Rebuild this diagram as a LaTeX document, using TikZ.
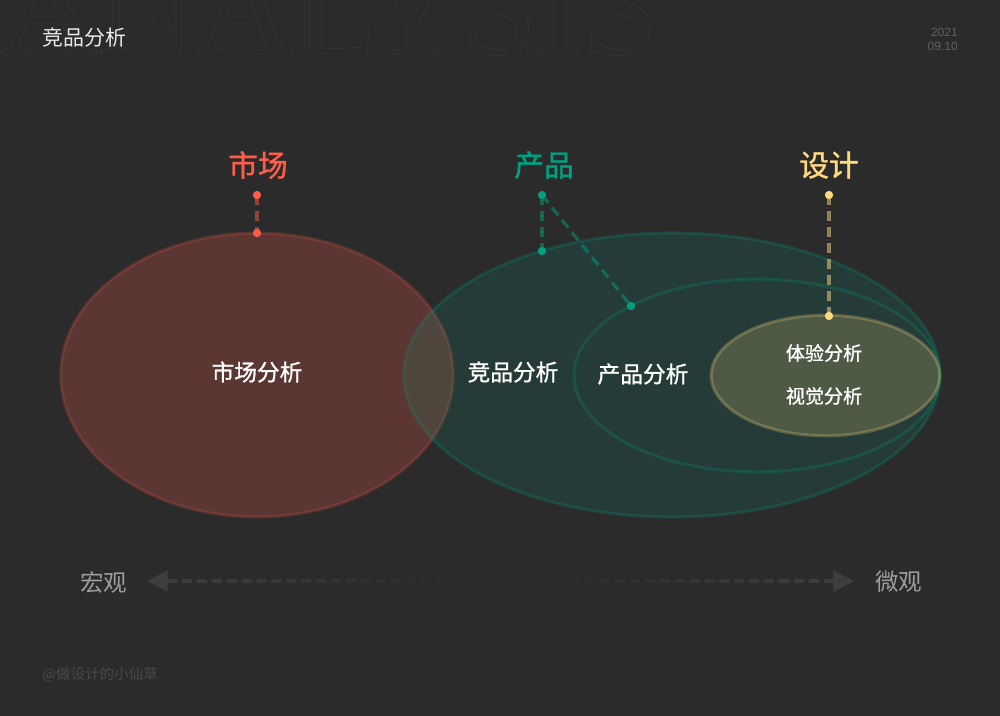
\documentclass[tikz,border=0pt]{standalone}
\usepackage{fontspec}
\usetikzlibrary{shapes.geometric,arrows.meta}
\setmainfont{Liberation Sans}
\newfontfamily\cjk{Noto Sans CJK SC}
\newfontfamily\cjkmed[FakeBold=1.1]{Noto Sans CJK SC}
\newfontfamily\bigserif{Liberation Serif}
\newcommand{\outlined}[1]{\special{pdf:code 1 Tr 0.2 w}#1\special{pdf:code 0 Tr}}
\definecolor{bgdark}{HTML}{2B2B2B}
\definecolor{marketred}{HTML}{FF5C4A}
\definecolor{productgreen}{HTML}{00A080}
\definecolor{designyellow}{HTML}{FFD97D}
\tikzset{
  blob/.style={ellipse, inner sep=0pt, line width=2.3pt},
  dot/.style={circle, fill=#1, inner sep=0pt, minimum width=6.2pt},
  lead/.style={dash pattern=on 7.5pt off 4.5pt, line width=2.4pt, draw opacity=.5},
  heading/.style={font=\cjkmed\fontsize{22.3}{22.3}\selectfont},
  inlabel/.style={text=white, font=\cjkmed\fontsize{17}{17}\selectfont},
  smalllabel/.style={text=white, font=\cjkmed\fontsize{14.3}{14.3}\selectfont},
  scalelabel/.style={text=black!38!white, font=\cjk\fontsize{17.6}{17.6}\selectfont}
}

\begin{document}
\begin{tikzpicture}[x=.75pt, y=-.75pt]
    \useasboundingbox (0,0) rectangle (1000,716);
    \clip (0,0) rectangle (1000,716);
    \fill[bgdark] (0,0) rectangle (1000,716);
    \node[anchor=base west, inner sep=0pt, text=white!10!bgdark, font=\bigserif\fontsize{102}{102}\selectfont] (word) at (-1,54) {\outlined{ANALYSIS}};
    \node[text=white!92!black, font=\cjk\fontsize{15.7}{15.7}\selectfont, anchor=west, inner sep=0pt] (title) at (42,38) {竞品分析};
    \node[text=white!25!bgdark, font=\fontsize{9}{10}\selectfont, align=right, anchor=east, inner sep=0pt] (date) at (958,39.5) {2021\\09.10};

    \node[blob, draw=marketred, draw opacity=.18, fill=marketred, fill opacity=.23, minimum width=294.5pt, minimum height=213pt] (market) at (257,375) {};
    \node[blob, draw=productgreen, draw opacity=.22, fill=productgreen, fill opacity=.145, minimum width=402pt, minimum height=213pt] (compete) at (672,375) {};
    \node[blob, draw=productgreen, draw opacity=.22, minimum width=274.5pt, minimum height=144.5pt] (product) at (757,375.5) {};
    \node[blob, draw=designyellow, draw opacity=.25, fill=designyellow, fill opacity=.2, minimum width=171.5pt, minimum height=90.5pt] (design) at (825.5,375.5) {};

    \node[heading, text=marketred] (marketname) at (258,165) {市场};
    \node[heading, text=productgreen] (productname) at (544,165) {产品};
    \node[heading, text=designyellow] (designname) at (829,165) {设计};

    \draw[lead, marketred] (257,195) coordinate (marketup) to (257,233) coordinate (marketlow);
    \draw[lead, productgreen] (542,195) coordinate (productup) to (542,251) coordinate (productlow);
    \draw[lead, productgreen] (productup) to (631,306) coordinate (productfar);
    \draw[lead, designyellow] (829,195) coordinate (designup) to (829,316) coordinate (designlow);
    \foreach \spot/\tone in {marketup/marketred, marketlow/marketred, productup/productgreen, productlow/productgreen, productfar/productgreen, designup/designyellow, designlow/designyellow}
      \node[dot=\tone] (\spot dot) at (\spot) {};

    \node[inlabel] (marketin) at (257,372) {市场分析};
    \node[inlabel] (competein) at (513,372) {竞品分析};
    \node[inlabel] (productin) at (643,374) {产品分析};
    \node[smalllabel] (feel) at (824,353) {体验分析};
    \node[smalllabel] (visual) at (824,396) {视觉分析};

    \node[scalelabel] (macro) at (103.5,582) {宏观};
    \node[scalelabel] (micro) at (898.5,582) {微观};
    \coordinate (macroend) at (147,581);
    \coordinate (microend) at (854,581);
    \draw[{Triangle[length=15.5pt,width=15.5pt]}-{Triangle[length=15.5pt,width=15.5pt]}, draw=white!9!bgdark, fill=white!9!bgdark, line width=2.3pt, dash pattern=on 7.5pt off 3.7pt] (macroend) to (microend);
    \foreach \x in {170,180,...,830}
      \fill[bgdark, opacity={min(1,(330-abs(\x-495))/300)}] (\x,572) rectangle (\x+10,590);

    \node[text=white!14!bgdark, font=\cjk\fontsize{10.9}{10.9}\selectfont, anchor=west, inner sep=0pt] (credit) at (42,675) {@做设计的小仙草};
  \end{tikzpicture}
\end{document}
